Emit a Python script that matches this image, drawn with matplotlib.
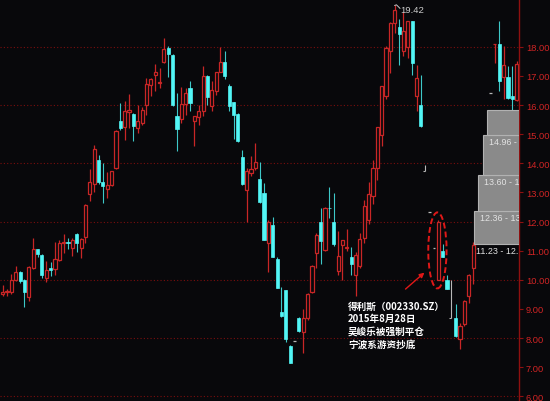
import matplotlib.pyplot as plt
import matplotlib.patches as mpatches

# daily OHLC, one slot per trading day (None = no candle drawn)
opens = [
    9.50, 9.58, 9.58, 10.00, 10.28, 10.00, 9.40, 10.42, 11.07, 10.85,
    10.05, 10.39, 10.36, 10.67, 11.25, 11.29, 11.10, 11.59, 11.10, 11.48,
    12.93, 13.29, 14.13, 13.35, 13.12, 13.24, 13.84, 15.44, 15.25, 15.76,
    15.70, 15.21, 15.40, 16.00, 16.70, 17.03, 16.74, 17.48, 17.96, 17.73,
    15.63, 15.53, 16.04, 16.58, 15.44, 15.59, 15.78, 17.00, 15.95, 16.47,
    17.13, 17.48, 16.66, 16.10, 15.69, 14.22, 13.10, 13.67, 13.84, 13.47,
    12.98, 11.27, 11.87, 10.73, 8.89, 9.64, 7.73, None, 8.70, 8.20,
    8.70, 9.58, 10.92, 11.99, 11.02, 12.48, 11.98, 10.30, 11.18, 11.10,
    10.79, 10.18, 10.47, 11.44, 12.07, 12.87, 13.84, 14.98, 16.30, 17.84,
    18.83, 18.68, 17.84, 18.00, 18.87, 16.30, 16.00, None, None, None,
    10.00, 10.98, 10.00, None, 8.70, 7.96, 8.47, 9.44, 10.41, None,
    None, None, None, 18.09, 18.09, 16.96, 16.96, 16.30, 16.18]
closes = [
    9.58, 9.62, 10.00, 10.28, 9.95, 9.57, 10.45, 11.07, 10.87, 10.18,
    10.32, 10.32, 10.70, 11.27, 11.29, 11.25, 11.36, 11.27, 11.41, 12.58,
    13.35, 14.50, 13.35, 13.21, 13.26, 13.73, 15.12, 15.21, 15.80, 15.84,
    15.29, 15.44, 15.84, 16.72, 16.90, 17.13, 16.78, 17.92, 17.76, 16.00,
    15.18, 16.04, 16.41, 16.07, 15.61, 15.80, 17.00, 16.26, 16.50, 17.12,
    17.48, 16.98, 15.95, 15.67, 14.75, 13.29, 13.73, 13.81, 14.05, 12.66,
    11.38, 11.98, 10.79, 9.73, 8.75, 7.98, 7.16, None, 8.24, 8.70,
    9.53, 10.49, 11.55, 11.33, 12.47, 12.46, 11.24, 10.81, 11.35, 11.14,
    10.53, 10.84, 11.41, 12.53, 12.93, 13.84, 15.23, 16.64, 17.96, 18.83,
    19.27, 18.44, 18.55, 18.88, 17.44, 16.93, 15.27, None, None, None,
    11.98, 10.79, 9.69, None, 8.07, 8.41, 9.27, 10.17, 11.21, None,
    None, None, None, 18.09, 16.83, 17.36, 16.24, 16.20, 17.42]
highs = [
    9.82, 9.70, 10.20, 10.47, 10.30, 10.02, 10.47, 11.45, 11.07, 10.87,
    10.64, 10.60, 11.30, 11.38, 11.59, 11.45, 11.45, 11.60, 11.45, 12.60,
    13.82, 14.62, 14.30, 14.00, 13.69, 13.75, 15.14, 16.07, 16.15, 16.38,
    15.72, 16.01, 15.92, 16.93, 16.92, 17.40, 17.26, 18.30, 18.01, 17.75,
    16.41, 16.62, 16.58, 16.83, 15.61, 16.01, 17.33, 17.02, 16.81, 17.14,
    17.98, 17.84, 16.72, 16.12, 15.71, 14.45, 13.84, 14.26, 14.70, 14.05,
    13.33, 12.07, 12.16, 10.79, 9.75, 9.66, 7.75, None, 8.72, 9.01,
    9.55, 10.50, 11.61, 12.47, 12.50, 13.18, 12.98, 11.67, 11.35, 11.75,
    11.12, 10.95, 11.61, 12.75, 13.35, 14.11, 15.25, 16.66, 18.01, 18.85,
    19.42, 18.96, 19.20, 18.90, 18.88, 17.38, 17.04, None, None, None,
    12.07, 11.24, 10.15, None, 9.16, 8.53, 9.30, 10.20, 11.29, None,
    None, None, None, 18.09, 18.87, 18.01, 17.33, 17.33, 17.50]
lows = [
    9.46, 9.43, 9.50, 9.95, 9.90, 9.06, 9.26, 10.36, 10.80, 10.07,
    9.94, 10.13, 10.15, 10.64, 10.93, 11.07, 10.81, 10.95, 10.76, 11.27,
    12.70, 13.00, 13.30, 12.65, 12.80, 13.22, 13.80, 15.15, 14.81, 15.21,
    14.78, 15.04, 15.33, 15.67, 16.30, 16.47, 16.58, 17.45, 16.96, 15.98,
    14.41, 15.38, 15.65, 15.78, 14.58, 15.33, 15.61, 15.99, 15.78, 16.36,
    17.12, 16.89, 15.78, 14.83, 14.73, 13.27, 12.00, 13.56, 13.78, 12.64,
    11.36, 10.27, 10.77, 9.71, 8.73, 7.86, 7.14, None, 8.22, 7.50,
    8.62, 9.55, 10.41, 10.53, 11.00, 12.13, 11.16, 10.18, 10.00, 10.98,
    10.18, 9.46, 10.41, 11.27, 11.90, 12.60, 13.44, 14.58, 16.20, 17.10,
    18.47, 17.38, 17.67, 17.60, 17.04, 15.78, 15.25, None, None, None,
    10.00, 10.77, 9.67, None, 8.02, 7.61, 8.42, 9.21, 9.84, None,
    None, None, None, 17.46, 16.47, 16.21, 16.21, 15.84, 16.15]

# grey marks on days without a normal candle
mark_idx = [67, 97, 98, 99, 103, 112]
mark_hi = [7.90, 13.95, 12.33, 11.10, 10.00, 16.41]
mark_lo = [7.90, 13.73, 12.33, 11.10, 8.70, 16.41]

# chip distribution bands (price range, length in day slots)
chip_lo = [11.23, 12.36, 13.60, 14.96]
chip_hi = [12.36, 13.60, 14.96, 15.84]
chip_len = [10.33, 9.35, 8.33, 7.28]

note_lines = ['得利斯（002330.SZ）', '2015年8月28日', '吴峻乐被强制平仓', '宁波系游资抄底']
y_ticks = [6, 7, 8, 9, 10, 11, 12, 13, 14, 15, 16, 17, 18]

bg = '#08080b'
red = '#c82626'
cyan = '#52f6f6'
x_left, x_right = -0.62, 118.53

fig = plt.figure(figsize=(5.5, 4.02), dpi=100, facecolor=bg)
ax = fig.add_axes([0, 0, 519 / 550, 1])
ax.set_facecolor(bg)
ax.set_xlim(x_left, x_right)
ax.set_ylim(5.84, 19.64)

for p in range(6, 19, 2):
    ax.axhline(p, color='#7a0e0e', lw=0.8, ls=(0, (1, 2)), zorder=0)

w = 0.72
for i, (o, h, l, c) in enumerate(zip(opens, highs, lows, closes)):
    if o is None:
        continue
    top, bot = max(o, c), min(o, c)
    if c >= o:
        ax.vlines(i, top, h, color=red, lw=0.9, zorder=2)
        ax.vlines(i, l, bot, color=red, lw=0.9, zorder=2)
        ax.add_patch(mpatches.Rectangle((i - w / 2, bot), w, top - bot,
                                        facecolor=bg, edgecolor=red, lw=0.9, zorder=2))
    else:
        ax.vlines(i, l, h, color='#3ec8c8', lw=0.8, zorder=1)
        ax.add_patch(mpatches.Rectangle((i - w / 2, bot), w, top - bot,
                                        facecolor=cyan, edgecolor=cyan, lw=0.5, zorder=2))

for i, hi, lo in zip(mark_idx, mark_hi, mark_lo):
    if hi == lo:
        ax.hlines(hi, i - 0.3, i + 0.3, color='#b8b8b8', lw=0.9, zorder=2)
    else:
        ax.vlines(i, lo, hi, color='#b8b8b8', lw=0.8, zorder=2)
        ax.hlines(lo, i - 0.45, i, color='#b8b8b8', lw=0.8, zorder=2)

# highest price marker
hvals = [h if h is not None else 0 for h in highs]
imax = hvals.index(max(hvals))
ax.plot([imax, imax + 0.4, imax + 1.2], [hvals[imax], hvals[imax] + 0.02, hvals[imax] - 0.1],
        color='#c8c8c8', lw=0.7, zorder=3)
ax.text(imax + 1.35, hvals[imax] - 0.13, f'{hvals[imax]:.2f}', color='#cccccc',
        fontsize=6.8, family='Liberation Sans', va='center', ha='left', zorder=3)

# chip distribution boxes
for lo, hi, ln in zip(chip_lo, chip_hi, chip_len):
    left = x_right - ln
    ax.add_patch(mpatches.Rectangle((left, lo), ln + 1, hi - lo, facecolor='#8a8a8a',
                                    edgecolor='#b2b2b2', lw=0.8, zorder=3))

# annotation
ax.add_patch(mpatches.Ellipse((99.8, 11.01), 4.2, 2.61, fill=False, ec='#e01818',
                              lw=1.4, ls=(0, (3, 1.6)), zorder=4))
ax.annotate('', xy=(97.3, 10.31), xytext=(92.0, 9.62),
            arrowprops=dict(arrowstyle='-|>', color='#e01818', lw=1.0, mutation_scale=7),
            zorder=4)
for k, line in enumerate(note_lines):
    ax.text(79.3, 9.11 - 0.43 * k, line, color='white', fontsize=6.9, fontweight='bold',
            family=['Noto Sans CJK SC', 'DejaVu Sans'], va='center', ha='left', zorder=4)

for s in ['left', 'top', 'bottom']:
    ax.spines[s].set_visible(False)
ax.spines['right'].set_color('#8e1010')
ax.spines['right'].set_linewidth(1.0)
ax.set_xticks([])
ax.yaxis.tick_right()
ax.set_yticks(y_ticks)
ax.set_yticklabels([f'{t:.2f}' for t in y_ticks])
ax.tick_params(axis='y', colors='#8e1010', length=3, width=0.8, pad=2,
               labelcolor='#d02424', labelsize=6.7)
for lab in ax.get_yticklabels():
    lab.set_family('Liberation Sans')

# chip labels, cut off where the price axis begins (as in the terminal)
renderer = fig.canvas.get_renderer()
axis_px = ax.transData.transform((x_right, 0))[0]
for lo, hi, ln in zip(chip_lo, chip_hi, chip_len):
    left = x_right - ln
    label = f'{lo:.2f} - {hi:.2f}'
    t = ax.text(left + 0.4, lo - 0.21, label, color='#e2e2e2', clip_on=True,
                fontsize=6.4, family='Liberation Sans', va='center', ha='left', zorder=4)
    while t.get_window_extent(renderer).x1 > axis_px + 4 and len(label) > 1:
        label = label[:-1]
        t.set_text(label)

fig.savefig('out.png', dpi=100, facecolor=bg)
